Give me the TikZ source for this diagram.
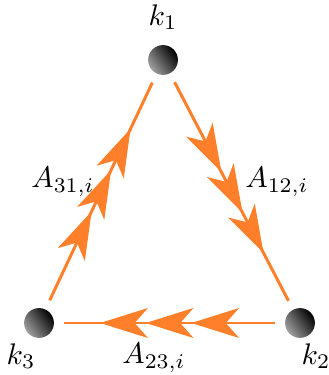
\documentclass[tikz,border=0pt]{standalone}
\usetikzlibrary{arrows.meta,decorations.markings}

\definecolor{linkorange}{RGB}{255,127,42}

\tikzset{
  ball/.style={circle,minimum size=10pt,inner sep=0pt,outer sep=3.4pt,
    top color=black,bottom color=gray!75,shading angle=-55},
  chev/.tip={Stealth[length=16pt,width=10pt,inset=4.4pt]},
  link/.style={linkorange,line width=1pt,postaction={decorate},
    decoration={markings,
      mark=at position 0.5 with {\arrow[xshift=-7.3pt]{chev}},
      mark=at position 0.5 with {\arrow[xshift=8pt]{chev}},
      mark=at position 0.5 with {\arrow[xshift=23.3pt]{chev}}}}
}

\begin{document}
\begin{tikzpicture}[x=0.0118cm,y=0.0118cm]
    \useasboundingbox (0,0) rectangle (328,375);
    % the three points
    \node[ball] (k1) at (163,315) {};
    \node[ball] (k2) at (300,52) {};
    \node[ball] (k3) at (39,52) {};
    \node (t1) at (163,358) {$k_1$};
    \node (t2) at (316,19) {$k_2$};
    \node (t3) at (21,19) {$k_3$};
    % links between them
    \draw[link] (k1) -- (k2);
    \draw[link] (k2) -- (k3);
    \draw[link] (k3) -- (k1);
    \node (a12) at (277,193) {$A_{12,i}$};
    \node (a23) at (154,17) {$A_{23,i}$};
    \node (a31) at (63,193) {$A_{31,i}$};
  \end{tikzpicture}
\end{document}
